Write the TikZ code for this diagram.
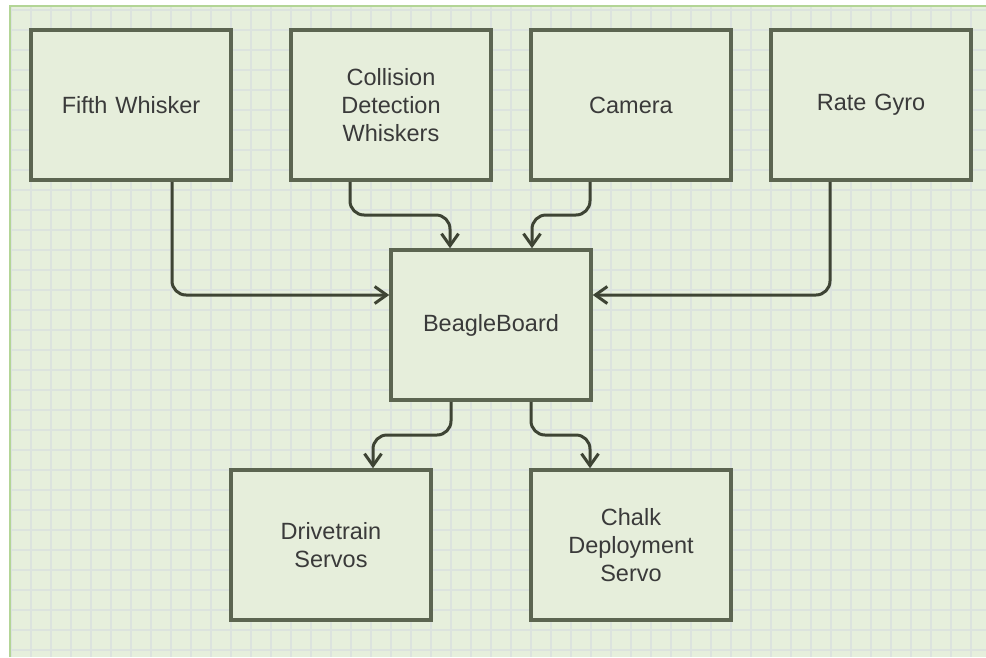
\documentclass[tikz,border=0pt]{standalone}
\usepackage{fontspec}
\setmainfont{Liberation Sans}
\usetikzlibrary{arrows.meta,calc}
\definecolor{bgc}{HTML}{E6EFDC}
\definecolor{gridc}{HTML}{DCE3DE}
\definecolor{edgec}{HTML}{B3D596}
\definecolor{boxc}{HTML}{5C6551}
\definecolor{boxfill}{HTML}{E6EEDB}
\definecolor{linec}{HTML}{3E4434}
\definecolor{txtc}{HTML}{3A3A3A}
\tikzset{
  block/.style={draw=boxc, line width=3.5pt, fill=boxfill, minimum width=200pt, minimum height=150pt,
    inner sep=0pt, align=center, text=txtc, font=\fontsize{23.5}{28}\selectfont, text width=190pt},
  conn/.style={draw=linec, line width=3pt, rounded corners=14pt,
    -{Straight Barb[length=12pt,width=17pt,line width=3pt]}}
}
\begin{document}
\begin{tikzpicture}[x=1pt,y=-1pt]
\useasboundingbox (0,0) rectangle (986,657);
\fill[white] (0,0) rectangle (986,657);
\fill[bgc] (10,6) rectangle (986,657);
\begin{scope}
\clip (10,6) rectangle (986,657);
\foreach \x in {11,31,...,991} \draw[gridc, line width=1.2pt] (\x,6) -- (\x,657);
\foreach \y in {10,30,...,660} \draw[gridc, line width=1.2pt] (10,\y) -- (986,\y);
\end{scope}
\draw[edgec, line width=2pt] (10,657) -- (10,6) -- (986,6);

\node[block] (fifth) at (131,105) {Fifth Whisker};
\node[block] (coll) at (391,105) {Collision\\Detection\\Whiskers};
\node[block] (cam) at (631,105) {Camera};
\node[block] (gyro) at (871,105) {Rate Gyro};
\node[block] (bb) at (491,325) {BeagleBoard};
\node[block] (drive) at (331,545) {Drivetrain\\Servos};
\node[block] (chalk) at (631,545) {Chalk\\Deployment\\Servo};

\draw[conn] ([xshift=41pt]fifth.south) |- ([yshift=30pt]bb.west);
\draw[conn] ([xshift=-41pt]gyro.south) |- ([yshift=30pt]bb.east);
\coordinate (c1) at ([xshift=-41pt]coll.south);
\coordinate (b1) at ([xshift=-41pt]bb.north);
\draw[conn] (c1) |- ($(c1)!0.5!(b1)$) -| (b1);
\coordinate (c2) at ([xshift=-41pt]cam.south);
\coordinate (b2) at ([xshift=41pt]bb.north);
\draw[conn] (c2) |- ($(c2)!0.5!(b2)$) -| (b2);
\coordinate (b3) at ([xshift=-40pt]bb.south);
\coordinate (d3) at ([xshift=42pt]drive.north);
\draw[conn] (b3) |- ($(b3)!0.5!(d3)$) -| (d3);
\coordinate (b4) at ([xshift=40pt]bb.south);
\coordinate (d4) at ([xshift=-41pt]chalk.north);
\draw[conn] (b4) |- ($(b4)!0.5!(d4)$) -| (d4);
\end{tikzpicture}
\end{document}
